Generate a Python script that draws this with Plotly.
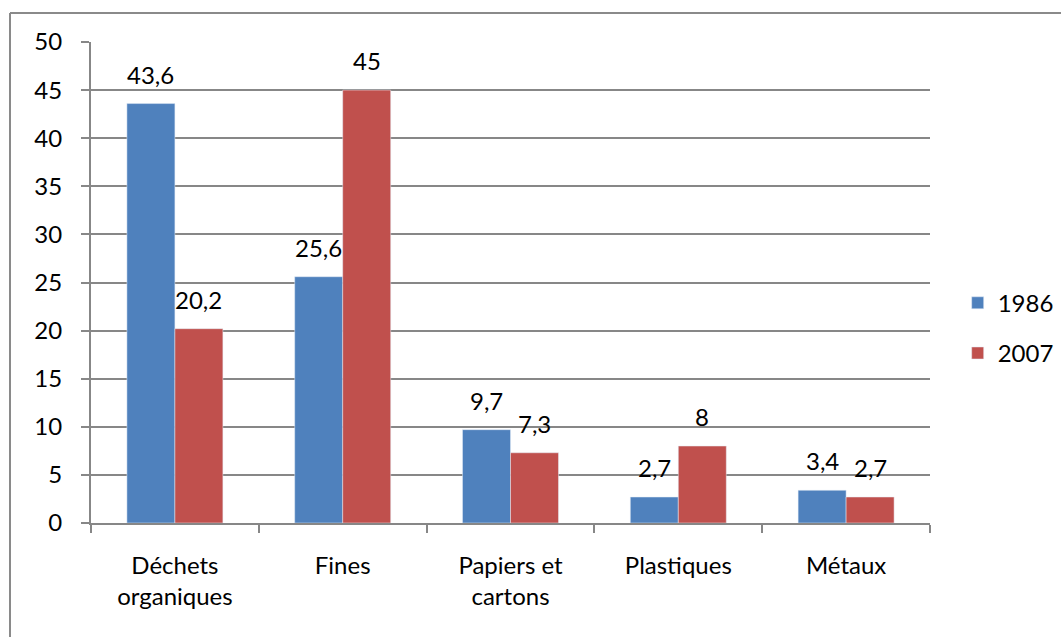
import plotly.graph_objects as go

categories = ["Déchets<br>organiques", "Fines", "Papiers et<br>cartons", "Plastiques", "Métaux"]
values_1986 = [43.6, 25.6, 9.7, 2.7, 3.4]
values_2007 = [20.2, 45, 7.3, 8, 2.7]
labels_1986 = ["43,6", "25,6", "9,7", "2,7", "3,4"]
labels_2007 = ["20,2", "45", "7,3", "8", "2,7"]
y_ticks = [0, 5, 10, 15, 20, 25, 30, 35, 40, 45, 50]

FONT = "Lato"
FS = 24
GRID = "#878787"

fig = go.Figure()
fig.add_trace(go.Bar(x=categories, y=values_1986, name="1986", marker_color="#4F81BD",
                     legendgroup="a"))
fig.add_trace(go.Bar(x=categories, y=values_2007, name="2007", marker_color="#C0504D",
                     legendgroup="b"))

L, R, T, B = 91, 131, 42, 114
W, H = 1061, 637
pw, ph = W - L - R, H - T - B
fx = (10 - L) / pw
fy = 1 + (T - 13) / ph
bar_px = 48

annotations = []
for cat, v, t in zip(categories, values_1986, labels_1986):
    annotations.append(dict(x=cat, y=v, text=t, xref="x", yref="y", showarrow=False,
                            xshift=-bar_px / 2, yshift=13, yanchor="bottom",
                            font=dict(family=FONT, size=FS, color="black")))
for cat, v, t in zip(categories, values_2007, labels_2007):
    annotations.append(dict(x=cat, y=v, text=t, xref="x", yref="y", showarrow=False,
                            xshift=bar_px / 2, yshift=13, yanchor="bottom",
                            font=dict(family=FONT, size=FS, color="black")))

fig.update_layout(
    width=W, height=H,
    margin=dict(l=L, r=R, t=T, b=B, autoexpand=False),
    paper_bgcolor="white", plot_bgcolor="white",
    barmode="group", bargap=0.428, bargroupgap=0,
    font=dict(family=FONT, size=FS, color="black"),
    legend=dict(x=1.033, y=0.405, xanchor="left", yanchor="middle",
                font=dict(family=FONT, size=FS), tracegroupgap=16,
                itemwidth=30, bgcolor="rgba(0,0,0,0)"),
    xaxis=dict(showline=True, linecolor=GRID, linewidth=2, ticks="outside",
               tickson="boundaries", ticklen=8, tickcolor=GRID, tickwidth=2,
               ticklabelstandoff=20, tickfont=dict(family=FONT, size=FS)),
    yaxis=dict(range=[0, 50], tickvals=y_ticks, showgrid=True, gridcolor=GRID,
               gridwidth=1.5, showline=True, linecolor=GRID, linewidth=2,
               ticks="outside", ticklen=8, tickcolor=GRID, tickwidth=2,
               zeroline=False, tickfont=dict(family=FONT, size=FS),
               ticklabelstandoff=14),
    annotations=annotations,
    shapes=[
        dict(type="line", xref="paper", yref="paper", x0=fx, x1=1.2, y0=fy, y1=fy,
             line=dict(color="#8a8a8a", width=2)),
        dict(type="line", xref="paper", yref="paper", x0=fx, x1=fx, y0=-0.3, y1=fy,
             line=dict(color="#8a8a8a", width=2)),
    ],
)

fig.write_html("out.html")
